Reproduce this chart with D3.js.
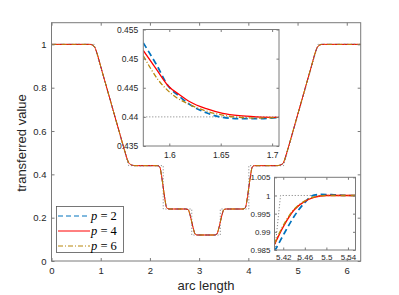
<!DOCTYPE html>
<html>
<head>
<meta charset="utf-8">
<script src="https://cdn.jsdelivr.net/npm/d3@7"></script>
<style>
  body { margin: 0; background: #fff; }
  svg { display: block; }
</style>
</head>
<body>
<svg id="chart" width="399" height="295"></svg>
<script>
// tick values
const xTicks = [0, 1, 2, 3, 4, 5, 6];
const yTicks = [0, 0.2, 0.4, 0.6, 0.8, 1];
const zoomAXTicks = [1.6, 1.65, 1.7];
const zoomAYTicks = [0.435, 0.44, 0.445, 0.45, 0.455];
const zoomBXTicks = [5.42, 5.46, 5.5, 5.54];
const zoomBYTicks = [0.985, 0.99, 0.995, 1, 1.005];

// legend names (p values)
const seriesNames = ["2", "4", "6"];

// exact (dotted) transferred value
const exactCurve = [[0, 1], [0.868, 1], [1.568, 0.44], [2.27, 0.44], [2.27, 0.24], [2.85, 0.24],
  [2.85, 0.12], [3.43, 0.12], [3.43, 0.24], [4.01, 0.24], [4.01, 0.44], [4.715, 0.44],
  [5.415, 1], [6.2832, 1]];

// the three approximations lie on top of each other at full scale
const approxCurve = [[0, 1], [0.78, 1], [0.82, 0.998], [0.84, 0.996], [0.86, 0.992], [0.88, 0.986],
  [0.92, 0.962], [1.0, 0.898], [1.2, 0.738], [1.4, 0.578], [1.5, 0.499], [1.55, 0.463],
  [1.575, 0.451], [1.6, 0.4465], [1.625, 0.4437], [1.65, 0.4417], [1.68, 0.4404], [1.72, 0.44],
  [2.15, 0.44], [2.2, 0.434], [2.235, 0.395], [2.27, 0.34], [2.305, 0.285], [2.34, 0.246], [2.39, 0.24],
  [2.73, 0.24], [2.78, 0.236], [2.815, 0.213], [2.85, 0.18], [2.885, 0.147], [2.92, 0.124], [2.97, 0.12],
  [3.31, 0.12], [3.36, 0.124], [3.395, 0.147], [3.43, 0.18], [3.465, 0.213], [3.5, 0.236], [3.55, 0.24],
  [3.89, 0.24], [3.94, 0.246], [3.975, 0.285], [4.01, 0.34], [4.045, 0.395], [4.08, 0.434], [4.13, 0.44],
  [4.56, 0.44], [4.6, 0.4404], [4.63, 0.4417], [4.655, 0.4437], [4.68, 0.4465], [4.705, 0.451],
  [4.73, 0.463], [4.78, 0.499], [4.88, 0.578], [5.08, 0.738], [5.28, 0.898], [5.36, 0.962],
  [5.4, 0.986], [5.42, 0.992], [5.44, 0.996], [5.46, 0.998], [5.5, 1], [6.2832, 1]];

// upper inset (around arc length 1.6)
const zoomAExact = [[1.5747, 0.44], [1.7067, 0.44]];
const zoomAP2 = [[1.5747, 0.4527], [1.5877, 0.4489], [1.599, 0.4453], [1.61, 0.4435], [1.62, 0.4421],
  [1.636, 0.4407], [1.652, 0.4399], [1.668, 0.4397], [1.685, 0.4397], [1.7067, 0.4399]];
const zoomAP4 = [[1.5747, 0.4514], [1.5877, 0.4481], [1.599, 0.4453], [1.61, 0.4438], [1.62, 0.4426],
  [1.636, 0.4414], [1.652, 0.4406], [1.668, 0.4402], [1.685, 0.44], [1.7067, 0.4399]];
const zoomAP6 = [[1.5747, 0.4505], [1.589, 0.4464], [1.6025, 0.4439], [1.62, 0.4421], [1.636, 0.441],
  [1.652, 0.4403], [1.668, 0.4399], [1.685, 0.4398], [1.7067, 0.4399]];

// lower inset (around arc length 5.45)
const zoomBExact = [[5.4045, 0.985], [5.415, 1], [5.554, 1]];
const zoomBP2 = [[5.4038, 0.9847], [5.405, 0.985], [5.422, 0.9896], [5.44, 0.9942], [5.459, 0.9979],
  [5.477, 1.0001], [5.49, 1.0003], [5.514, 1.0002], [5.54, 1.0], [5.554, 1.0]];
const zoomBP4 = [[5.4038, 0.9865], [5.422, 0.9919], [5.44, 0.996], [5.459, 0.9983], [5.477, 0.9995],
  [5.5, 1.0], [5.554, 1.0]];
const zoomBP6 = [[5.4038, 0.9868], [5.422, 0.9923], [5.44, 0.9962], [5.459, 0.9984], [5.477, 0.9996],
  [5.5, 1.0], [5.554, 1.0]];

var colors = ["#0072bd", "#ff0000", "#b8860b"];
var dashes = ["5,3", null, "5,2,1,2"];
var sansFont = "'Liberation Sans', Arial, sans-serif";

var svg = d3.select("#chart");

var x = d3.scaleLinear().domain([0, 2 * Math.PI]).range([51.5, 360.7]);
var y = d3.scaleLinear().domain([0, 1.1]).range([261, 22.7]);

function drawLine(g, data, xs, ys, color, dash, w, curve) {
    var line = d3.line()
        .x(function (d) { return xs(d[0]); })
        .y(function (d) { return ys(d[1]); })
        .curve(curve || d3.curveLinear);
    g.append("path")
        .attr("d", line(data))
        .attr("fill", "none")
        .attr("stroke", color)
        .attr("stroke-width", w)
        .attr("stroke-dasharray", dash);
}

function drawAxes(g, xs, ys, o) {
    var x0 = xs.range()[0], x1 = xs.range()[1], y0 = ys.range()[0], y1 = ys.range()[1];
    var axes = [
        [d3.axisBottom(xs).tickValues(o.xTicks).tickFormat(o.fmt).tickPadding(o.padX), "translate(0," + y0 + ")"],
        [d3.axisTop(xs).tickValues(o.xTicks).tickFormat(""), "translate(0," + y1 + ")"],
        [d3.axisLeft(ys).tickValues(o.yTicks).tickFormat(o.fmt).tickPadding(o.padY), "translate(" + x0 + ",0)"],
        [d3.axisRight(ys).tickValues(o.yTicks).tickFormat(""), "translate(" + x1 + ",0)"]
    ];
    axes.forEach(function (a) {
        var ag = g.append("g")
            .attr("transform", a[1])
            .call(a[0].tickSizeInner(-o.tick).tickSizeOuter(0));
        ag.select(".domain").remove();
        ag.attr("font-family", sansFont).attr("font-size", o.font);
        ag.selectAll("line").attr("stroke", "#7a7a7a");
        ag.selectAll("text").attr("fill", "#262626");
    });
    g.append("rect")
        .attr("x", x0).attr("y", y1)
        .attr("width", x1 - x0).attr("height", y0 - y1)
        .attr("fill", "none")
        .attr("stroke", "#7a7a7a")
        .attr("stroke-width", 1);
}

// main plot
var main = svg.append("g");
drawLine(main, exactCurve, x, y, "#777", "1,2", 1);
for (var i = 0; i < 3; i++) {
    drawLine(main, approxCurve, x, y, colors[i], dashes[i], 1, d3.curveMonotoneX);
}
drawAxes(main, x, y, { xTicks: xTicks, yTicks: yTicks, fmt: d3.format("~g"), tick: 3, padX: 6, padY: 5, font: 9.5 });

main.append("text")
    .attr("x", 206).attr("y", 290)
    .attr("text-anchor", "middle")
    .attr("font-family", sansFont).attr("font-size", 13)
    .attr("fill", "#262626")
    .text("arc length");

main.append("text")
    .attr("transform", "translate(26,143) rotate(-90)")
    .attr("text-anchor", "middle")
    .attr("font-family", sansFont).attr("font-size", 13)
    .attr("fill", "#262626")
    .text("transferred value");

// inset helper
function drawInset(id, xs, ys, exact, series, o) {
    var g = svg.append("g");
    var x0 = xs.range()[0], x1 = xs.range()[1], y0 = ys.range()[0], y1 = ys.range()[1];
    g.append("clipPath").attr("id", id)
        .append("rect").attr("x", x0).attr("y", y1).attr("width", x1 - x0).attr("height", y0 - y1);
    g.append("rect")
        .attr("x", x0).attr("y", y1).attr("width", x1 - x0).attr("height", y0 - y1)
        .attr("fill", "#fff");
    var lines = g.append("g").attr("clip-path", "url(#" + id + ")");
    drawLine(lines, exact, xs, ys, "#777", "1,2", 1);
    series.forEach(function (s, i) {
        var w = i === 0 ? 1.7 : 1.3;
        var dash = i === 0 ? "6,3.5" : dashes[i];
        drawLine(lines, s, xs, ys, colors[i], dash, w, d3.curveMonotoneX);
    });
    drawAxes(g, xs, ys, o);
}

var xa = d3.scaleLinear().domain([1.5747, 1.7067]).range([143.3, 279]);
var ya = d3.scaleLinear().domain([0.435, 0.455]).range([146, 29.5]);
drawInset("clipA", xa, ya, zoomAExact, [zoomAP2, zoomAP4, zoomAP6],
    { xTicks: zoomAXTicks, yTicks: zoomAYTicks, fmt: d3.format("~g"), tick: 2.5, padX: 6, padY: 5, font: 8.5 });

var xb = d3.scaleLinear().domain([5.4038, 5.554]).range([274.5, 355.5]);
var yb = d3.scaleLinear().domain([0.985, 1.005]).range([250, 177.3]);
drawInset("clipB", xb, yb, zoomBExact, [zoomBP2, zoomBP4, zoomBP6],
    { xTicks: zoomBXTicks, yTicks: zoomBYTicks, fmt: d3.format("~g"), tick: 2.5, padX: 4, padY: 4, font: 8 });

// legend
var leg = svg.append("g");
leg.append("rect")
    .attr("x", 56.5).attr("y", 206.5)
    .attr("width", 67).attr("height", 46)
    .attr("fill", "#fff")
    .attr("stroke", "#555")
    .attr("stroke-width", 0.8);
seriesNames.forEach(function (name, i) {
    var yy = 216 + i * 15;
    leg.append("line")
        .attr("x1", 58).attr("x2", 90)
        .attr("y1", yy).attr("y2", yy)
        .attr("stroke", colors[i])
        .attr("stroke-width", 1)
        .attr("stroke-dasharray", dashes[i]);
    var t = leg.append("text")
        .attr("x", 91).attr("y", yy + 4)
        .attr("font-family", "'Liberation Serif', 'Times New Roman', serif")
        .attr("font-size", 12.5)
        .attr("fill", "#000");
    t.append("tspan").attr("font-style", "italic").text("p");
    t.append("tspan").text(" = " + name);
});
</script>
</body>
</html>
